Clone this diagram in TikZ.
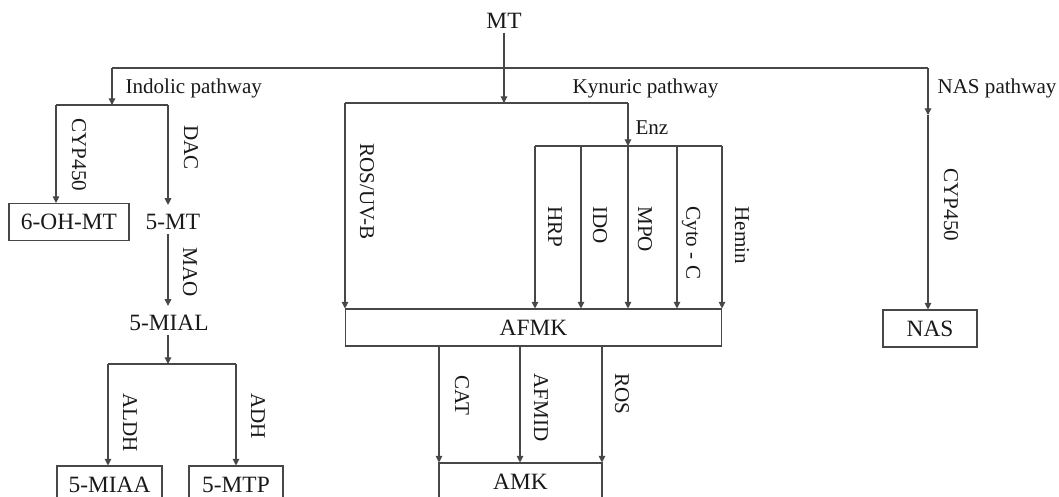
\documentclass[tikz,border=0pt]{standalone}
\usepackage{fontspec}
\setmainfont{Liberation Serif}
\usetikzlibrary{arrows.meta,positioning,calc}

\begin{document}
\begin{tikzpicture}[x=0.02cm,y=-0.02cm,>={Triangle[length=3.8pt,width=3.8pt]},
   line width=0.6pt,draw=black!72,
   chem/.style={inner sep=2pt,text=black!90,font=\fontsize{13.3}{15}\selectfont},
   box/.style={draw,minimum height=0.74cm,inner sep=2pt,text=black!90,font=\fontsize{13.3}{15}\selectfont},
   enz/.style={rotate=-90,anchor=west,inner sep=0pt,text=black!90,font=\fontsize{12}{14}\selectfont},
   path/.style={anchor=base west,inner sep=0pt,text=black!90,font=\fontsize{12}{14}\selectfont}]
  \clip (0,0) rectangle (1059,497);
  % compounds
  \node[chem] (mt) at (504,21) {MT};
  \node[box,minimum width=2.4cm] (ohmt) at (69,222) {6-OH-MT};
  \node[chem] (fmt) at (173,222) {5-MT};
  \node[chem] (mial) at (169,323) {5-MIAL};
  \node[box,minimum width=2.1cm] (miaa) at (109.5,484.5) {5-MIAA};
  \node[box,minimum width=1.88cm] (mtp) at (236,484.5) {5-MTP};
  \node[box,minimum width=7.54cm] (afmk) at (533.5,327.5) {AFMK};
  \node[box,minimum width=3.26cm] (amk) at (520.5,481.5) {AMK};
  \node[box,minimum width=1.88cm] (nas) at (930,328.5) {NAS};
  % junctions
  \coordinate (ind) at (112,68);
  \coordinate (nasp) at (928,68);
  \coordinate (indj) at (112,105);
  \coordinate (cy) at (56,105);
  \coordinate (dc) at (168,105);
  \coordinate (mj) at (168,364);
  \coordinate (al) at (108,364);
  \coordinate (ad) at (236,364);
  \coordinate (ro) at (345,103);
  \coordinate (kj) at (504,103);
  \coordinate (ez) at (628,103);
  \coordinate (nj) at (928,115);
  % pathways
  \node[path] (lind) at (125,93) {Indolic pathway};
  \node[path] (lkyn) at (572,93) {Kynuric pathway};
  \node[path] (lnas) at (937,93) {NAS pathway};
  \node[path] (lenz) at (635,134) {Enz};
  \draw (ind) -- (nasp);
  \draw[->] (mt) -- (kj);
  % indolic
  \draw[->] (ind) -- (indj);
  \draw (cy) -- (dc);
  \draw[->] (cy) -- (cy |- ohmt.north);
  \draw[->,shorten >=3pt] (dc) -- (dc |- fmt.north);
  \draw[->,shorten >=3pt] (dc |- fmt.south) -- (dc |- mial.north);
  \draw[->] (dc |- mial.south) -- (mj);
  \draw (al) -- (ad);
  \draw[->] (al) -- (al |- miaa.north);
  \draw[->] (ad) -- (ad |- mtp.north);
  \node[enz] (lcyp) at (79,118) {CYP450};
  \node[enz] (ldac) at (191,125) {DAC};
  \node[enz] (lmao) at (190,247) {MAO};
  \node[enz] (laldh) at (130,393) {ALDH};
  \node[enz] (ladh) at (258,393) {ADH};
  % kynuric
  \draw (ro) -- (ez);
  \draw[->] (ro) -- (ro |- afmk.north);
  \draw[->] (ez) -- (628,146);
  \draw (535,146) -- (722,146);
  \foreach \x [count=\i] in {535,581,628,677,722} {
    \coordinate (e\i) at (\x,146);
    \draw[->] (e\i) -- (e\i |- afmk.north);
  }
  \foreach \x [count=\i] in {439,520,602} {
    \coordinate (b\i) at (\x,346);
    \draw[->] (b\i |- afmk.south) -- (b\i |- amk.north);
  }
  \node[enz] (lros) at (367,143) {ROS/UV-B};
  \node[enz] (lhrp) at (555,206) {HRP};
  \node[enz] (lido) at (600,206) {IDO};
  \node[enz] (lmpo) at (645,206) {MPO};
  \node[enz] (lcyt) at (691,206) {Cyto - C};
  \node[enz] (lhem) at (742,206) {Hemin};
  \node[enz] (lcat) at (462,375) {CAT};
  \node[enz] (lafm) at (541,373) {AFMID};
  \node[enz] (lros2) at (622,373) {ROS};
  % NAS
  \draw[->] (nasp) -- (nj);
  \draw[->] (nj) -- (nj |- nas.north);
  \node[enz] (lcyp2) at (951,168) {CYP450};
\end{tikzpicture}
\end{document}
